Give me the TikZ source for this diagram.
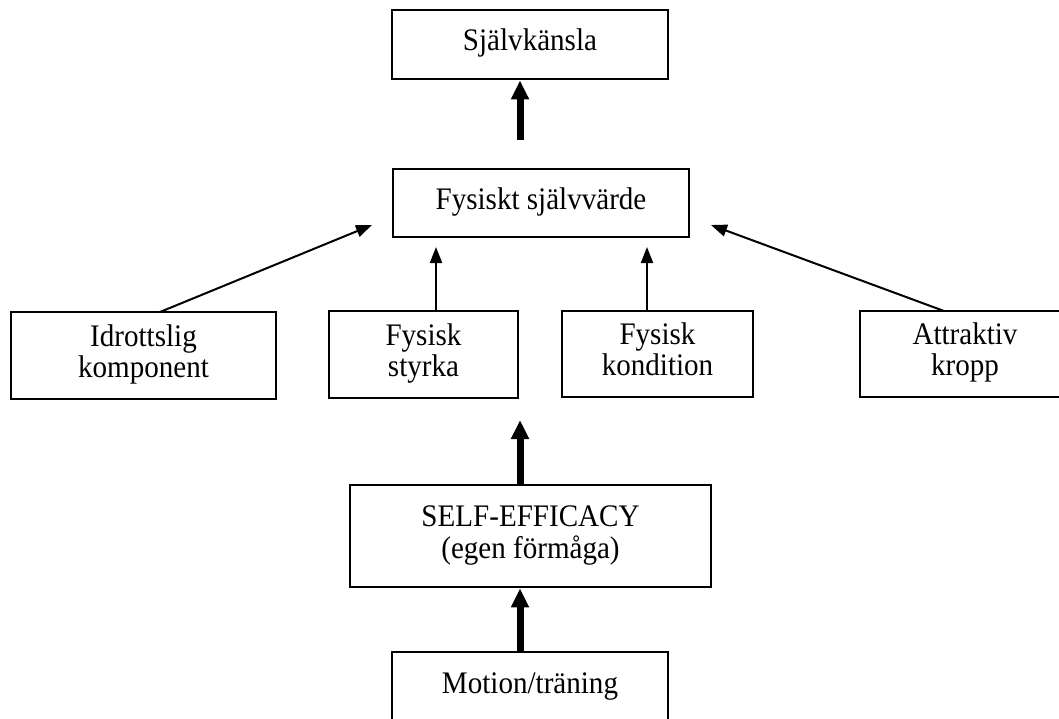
\documentclass[tikz,border=0pt]{standalone}
\usepackage{fontspec}
\usepackage{graphicx}
\setmainfont{Liberation Serif}
\usetikzlibrary{arrows.meta}
\newcommand{\stretchtext}[1]{\scalebox{1.02}[1.1]{\fontsize{28.5}{28.2}\selectfont\begin{tabular}{@{}c@{}}#1\end{tabular}}}
\begin{document}
\begin{tikzpicture}[x=1pt,y=-1pt,
  box/.style={draw, line width=2.6pt, inner sep=0pt, align=center},
  thick arrow/.style={line width=7pt, -{Triangle[length=19pt,width=17pt]}},
  thin arrow/.style={line width=2pt, -{Triangle[length=16pt,width=12pt]}}]
\useasboundingbox (0,0) rectangle (1059,718);
\clip (0,0) rectangle (1059,718);
\fill[white] (0,0) rectangle (1059,718);
% boxes
\node[box, minimum width=276pt, minimum height=69pt] (top) at (530,44.5) {\stretchtext{Självkänsla}};
\node[box, minimum width=296pt, minimum height=68pt] (fsv) at (541,203) {\stretchtext{Fysiskt självvärde}};
\node[box, minimum width=265pt, minimum height=87pt] (idr) at (143.5,355.5) {\stretchtext{Idrottslig\\komponent}};
\node[box, minimum width=189pt, minimum height=87pt] (sty) at (423.5,354.5) {\stretchtext{Fysisk\\styrka}};
\node[box, minimum width=191pt, minimum height=86pt] (kon) at (657.5,354) {\stretchtext{Fysisk\\kondition}};
\node[box, minimum width=210pt, minimum height=86pt] (att) at (965,354) {\stretchtext{Attraktiv\\kropp}};
\node[box, minimum width=361pt, minimum height=102pt] (self) at (530.5,536) {\stretchtext{SELF-EFFICACY\\(egen förmåga)}};
\node[box, minimum width=276pt, minimum height=70pt] (mot) at (530,687) {\stretchtext{Motion/träning}};
% connector coordinates
\coordinate (t1) at (520,140);
\coordinate (t2) at (520,420);
\coordinate (idrS) at (160,312);
\coordinate (idrE) at (372,225);
\coordinate (attS) at (944,311);
\coordinate (attE) at (711,225);
\coordinate (styE) at (436,247);
\coordinate (konE) at (647,247);
% connectors
\draw[thick arrow] (t1) -- (t1 |- top.south);
\draw[thin arrow] (idrS) -- (idrE);
\draw[thin arrow] (attS) -- (attE);
\draw[thin arrow] (styE |- sty.north) -- (styE);
\draw[thin arrow] (konE |- kon.north) -- (konE);
\draw[thick arrow] (t2 |- self.north) -- (t2);
\draw[thick arrow] (t2 |- mot.north) -- (t2 |- self.south);
\end{tikzpicture}
\end{document}
